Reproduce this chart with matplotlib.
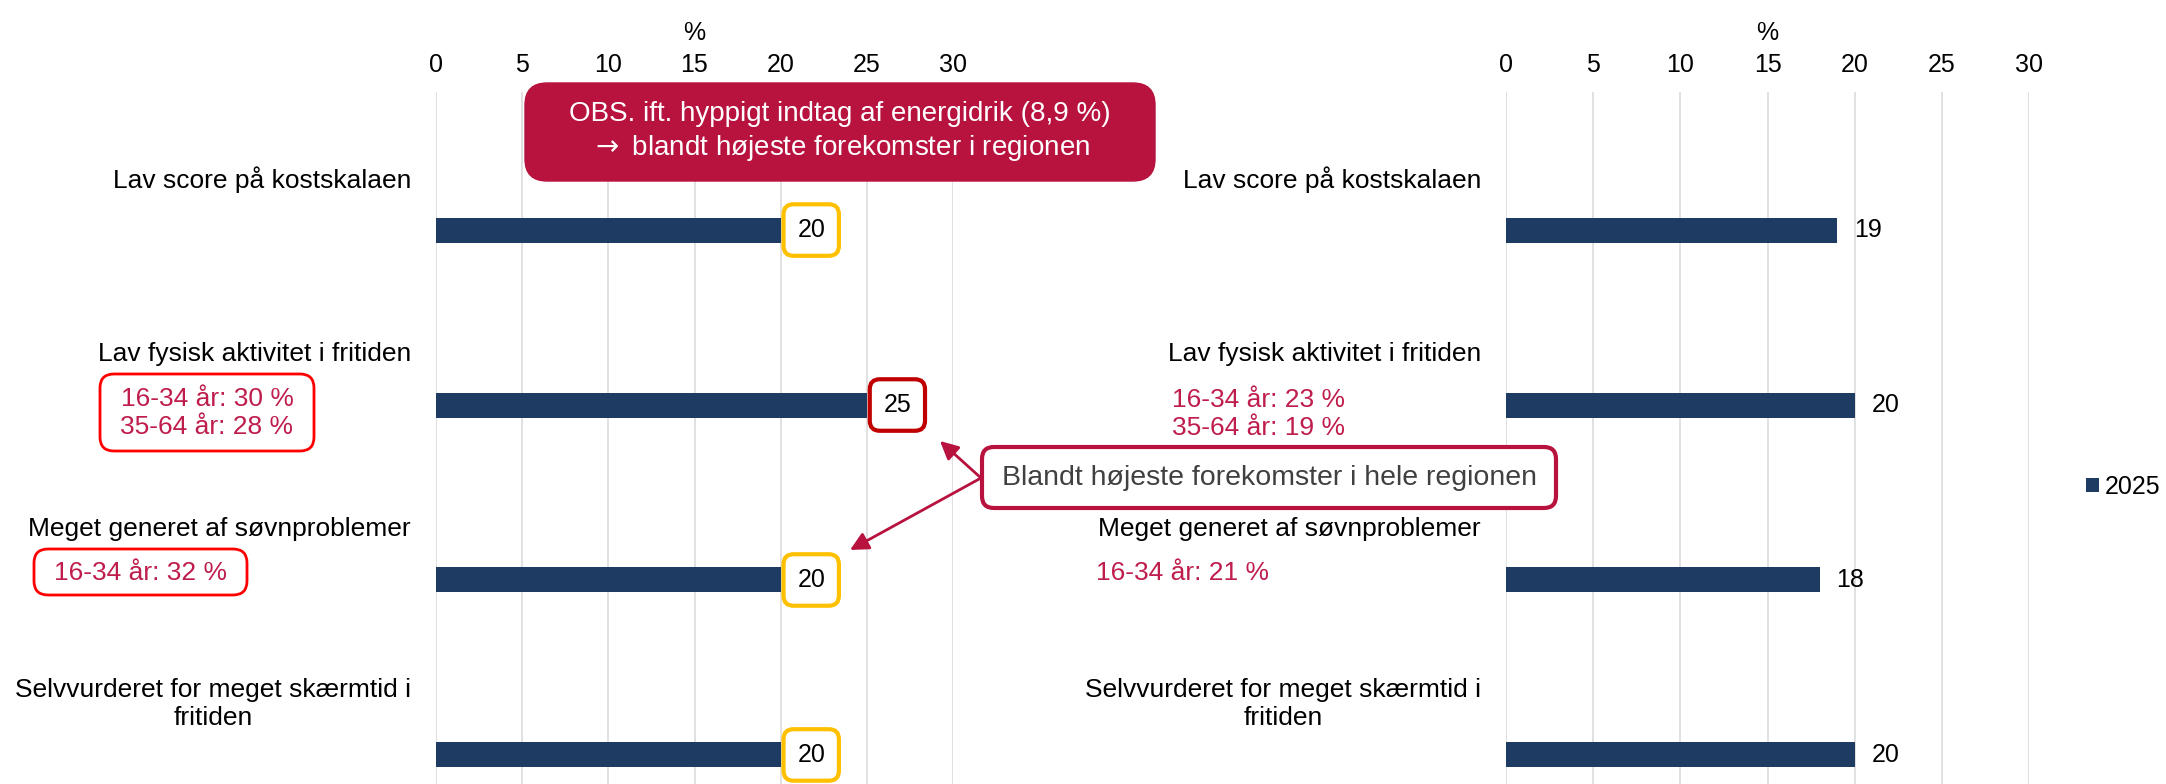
import numpy as np
import matplotlib
matplotlib.use("Agg")
from matplotlib import pyplot as plt
from matplotlib.patches import FancyBboxPatch

plt.rcParams['font.family'] = ['Liberation Sans', 'DejaVu Sans']

# data
categories = ["Lav score på kostskalaen",
              "Lav fysisk aktivitet i fritiden",
              "Meget generet af søvnproblemer",
              "Selvvurderet for meget skærmtid i\nfritiden"]
left_values = [20, 25, 20, 20]
right_values = [19, 20, 18, 20]
left_box_colors = ["#FFC000", "#C00000", "#FFC000", "#FFC000"]
xticks = [0, 5, 10, 15, 20, 25, 30]
series_name = "2025"

bar_color = "#1D3B63"
grid_color = "#D9D9D9"
crimson = "#B8123F"
crimson_txt = "#BF1D4C"
fs = 19

W, H = 2166, 784
fig = plt.figure(figsize=(W / 100, H / 100), dpi=100)

def make_axes(x0, x1, values):
    ax = fig.add_axes([x0 / W, 0, (x1 - x0) / W, (H - 92) / H])
    pos = np.arange(len(categories))
    ax.barh(pos, values, height=0.143, color=bar_color, label=series_name, zorder=3)
    ax.set_xlim(0, 30)
    ax.set_ylim(3.166, -0.789)
    ax.set_xticks(xticks)
    ax.xaxis.tick_top()
    ax.xaxis.set_label_position('top')
    ax.tick_params(axis='x', length=0, pad=11, labelsize=18)
    ax.set_yticks([])
    ax.set_xlabel('%', fontsize=18, labelpad=9)
    ax.grid(axis='x', color=grid_color, linewidth=1.1, zorder=0)
    for s in ax.spines.values():
        s.set_visible(False)
    for i, c in enumerate(categories):
        ax.annotate(c, xy=(0, i - 0.29), xytext=(-18, 0), textcoords='offset points',
                    ha='right', va='center', multialignment='center', fontsize=fs)
    return ax

ax1 = make_axes(436, 953, left_values)
ax2 = make_axes(1506, 2029, right_values)

# boxed data labels on the left
for i, v in enumerate(left_values):
    ax1.annotate(str(v), xy=(v, i), xytext=(22, 0), textcoords='offset points',
                 ha='center', va='center', fontsize=18, zorder=5, annotation_clip=False,
                 bbox=dict(boxstyle='round,pad=0.55,rounding_size=0.4', fc='white',
                           ec=left_box_colors[i], lw=3))

# plain data labels on the right
for i, v in enumerate(right_values):
    ax2.annotate(str(v), xy=(v, i), xytext=(12, 0), textcoords='offset points',
                 ha='left', va='center', fontsize=18)

ax2.legend(loc='center left', bbox_to_anchor=(2086 / W, 1 - 487 / H),
           bbox_transform=fig.transFigure, frameon=False, fontsize=18,
           handlelength=0.5, handleheight=0.5, handletextpad=0.25,
           borderpad=0, borderaxespad=0)

# overlay in pixel coordinates for callouts
ov = fig.add_axes([0, 0, 1, 1], zorder=10)
ov.set_xlim(0, W)
ov.set_ylim(H, 0)
ov.axis('off')
ov.patch.set_alpha(0)

def rbox(x0, y0, x1, y1, fc, ec, lw, r=14):
    ov.add_patch(FancyBboxPatch((x0, y0), x1 - x0, y1 - y0,
                                boxstyle=f'round,pad=0,rounding_size={r}',
                                fc=fc, ec=ec, lw=lw))

rbox(525, 83, 1155, 181, crimson, crimson, 1, r=22)
ov.text(840, 132, "OBS. ift. hyppigt indtag af energidrik (8,9 %)\n$\\rightarrow$ blandt højeste forekomster i regionen",
        ha='center', va='center', color='white', fontsize=20, linespacing=1.3)

rbox(100, 374, 314, 451, 'white', '#FF0000', 2)
ov.text(207, 413, "16-34 år: 30 %\n35-64 år: 28 %", ha='center', va='center',
        color=crimson_txt, fontsize=fs, linespacing=1.25)
rbox(34, 549, 247, 595, 'white', '#FF0000', 2)
ov.text(140, 573, "16-34 år: 32 %", ha='center', va='center', color=crimson_txt, fontsize=fs)

ov.text(1258, 414, "16-34 år: 23 %\n35-64 år: 19 %", ha='center', va='center',
        color=crimson_txt, fontsize=fs, linespacing=1.25)
ov.text(1182, 573, "16-34 år: 21 %", ha='center', va='center', color=crimson_txt, fontsize=fs)

rbox(982, 447, 1556, 508, 'white', crimson, 3, r=12)
ov.text(1269, 478, "Blandt højeste forekomster i hele regionen", ha='center', va='center',
        color='#404040', fontsize=20.5)
for tip in [(940, 441), (850, 550)]:
    ov.annotate('', xy=tip, xytext=(981, 478),
                arrowprops=dict(arrowstyle='-|>,head_length=1.1,head_width=0.55',
                                color=crimson, lw=2, shrinkA=0, shrinkB=0))

fig.savefig('out.png', dpi=100)
